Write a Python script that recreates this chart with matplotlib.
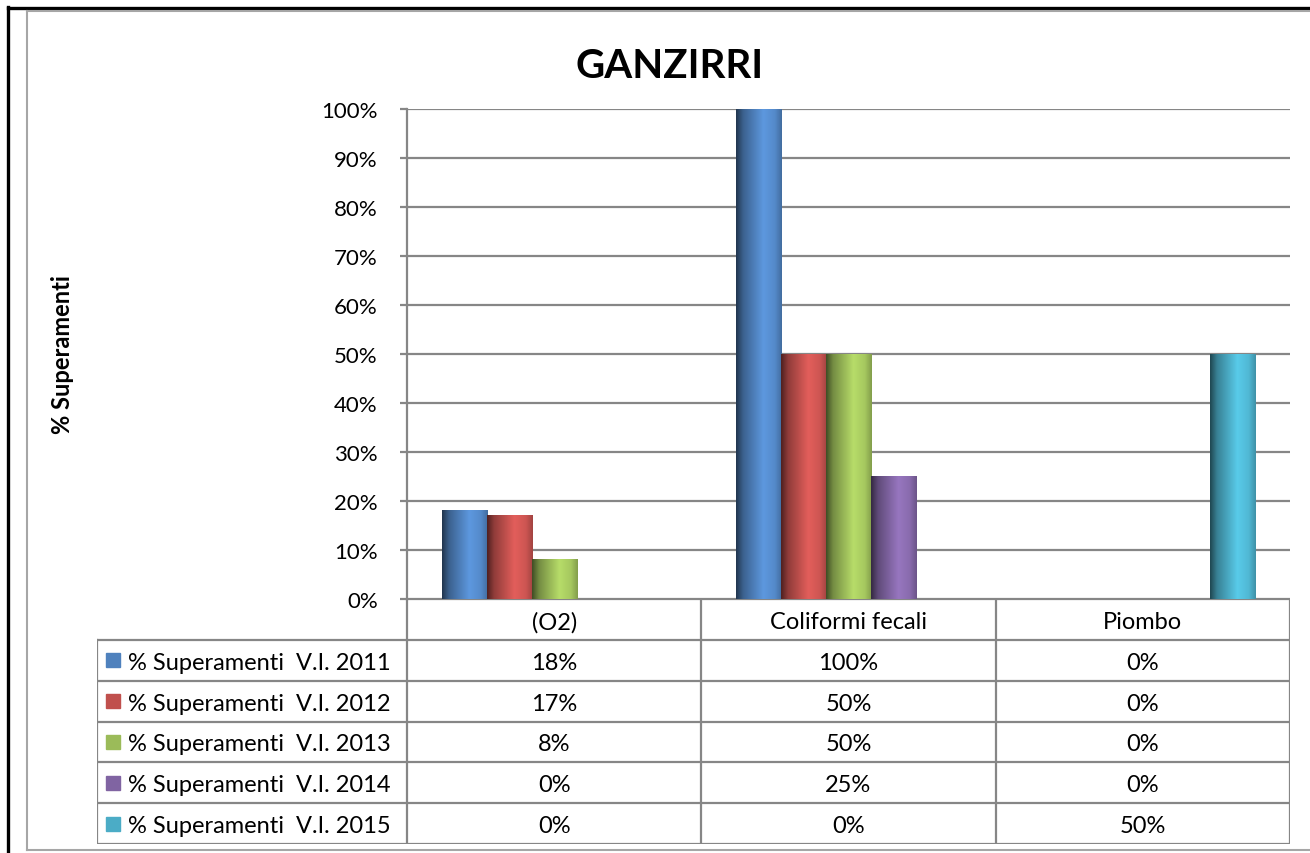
import numpy as np
import matplotlib.pyplot as plt
from matplotlib.colors import to_rgb
from matplotlib.lines import Line2D

plt.rcParams['font.family'] = ['Lato', 'DejaVu Sans']

# ---------------- data ----------------
categories = ['(O2)', 'Coliformi fecali', 'Piombo']
series_names = ['% Superamenti  V.I. 2011', '% Superamenti  V.I. 2012',
                '% Superamenti  V.I. 2013', '% Superamenti  V.I. 2014',
                '% Superamenti  V.I. 2015']
v2011 = [18, 100, 0]
v2012 = [17, 50, 0]
v2013 = [8, 50, 0]
v2014 = [0, 25, 0]
v2015 = [0, 0, 50]
values = [v2011, v2012, v2013, v2014, v2015]
colors = ['#4F81BD', '#C0504D', '#9BBB59', '#8064A2', '#4BACC6']

W, H = 1310, 854
GRID = '#868686'


def fx(px):
    return px / W


def fy(py):
    return 1 - py / H


fig = plt.figure(figsize=(W / 100, H / 100), dpi=100)

# frames round the chart
fig.add_artist(Line2D([fx(8), fx(8)], [fy(8), fy(H + 5)], color='black', lw=2.4))
fig.add_artist(Line2D([fx(8), fx(W + 5)], [fy(9), fy(9)], color='black', lw=2.4))
fig.add_artist(Line2D([fx(27), fx(27)], [fy(12), fy(851)], color='#a6a6a6', lw=1.5))
fig.add_artist(Line2D([fx(27), fx(W + 5)], [fy(12), fy(12)], color='#a6a6a6', lw=1.5))
fig.add_artist(Line2D([fx(27), fx(W + 5)], [fy(851), fy(851)], color='#a6a6a6', lw=1.5))

# ---------------- bar plot ----------------
ax_l, ax_r, ax_t, ax_b = 407, 1290, 110, 600
ax = fig.add_axes([fx(ax_l), fy(ax_b), fx(ax_r - ax_l), (ax_b - ax_t) / H])

n = len(values)
bw = 0.153
x = np.arange(len(categories))


def gradient(c):
    c = np.array(to_rgb(c))
    t = np.linspace(0, 1, 64)
    # dark left edge, highlight right of centre, slightly darker right edge
    shade = np.interp(t, [0, 0.15, 0.6, 0.85, 1.0], [0.42, 0.75, 1.18, 1.07, 0.85])
    img = np.clip(c[None, :] * shade[:, None], 0, 1)
    return img[None, :, :]


for i, (vals, c) in enumerate(zip(values, colors)):
    bars = ax.bar(x + (i - (n - 1) / 2) * bw, vals, bw, color=c, zorder=2)
    for p in bars:
        h = p.get_height()
        if h <= 0:
            continue
        x0 = p.get_x()
        ax.imshow(gradient(c), extent=[x0, x0 + p.get_width(), 0, h],
                  aspect='auto', zorder=3, interpolation='bilinear')

ax.set_xlim(-0.5, len(categories) - 0.5)
ax.set_ylim(0, 100)
ax.set_yticks(np.arange(0, 101, 10))
ax.set_yticklabels([f'{v}%' for v in range(0, 101, 10)])
ax.set_xticks([])
ax.yaxis.grid(True, color=GRID, lw=1.6)
ax.set_axisbelow(True)
for s in ['top', 'right', 'bottom']:
    ax.spines[s].set_visible(False)
ax.spines['left'].set_color(GRID)
ax.spines['left'].set_linewidth(1.6)
ax.tick_params(axis='y', length=5, width=1.6, color=GRID, pad=16, labelsize=16)

fig.text(fx(62), fy(355), '% Superamenti', rotation=90, ha='center', va='center',
         fontsize=17, fontweight='bold')
fig.text(fx(670), fy(66), 'GANZIRRI', ha='center', va='center',
         fontsize=29, fontweight='bold')

# ---------------- data table ----------------
tb_l, tb_r, tb_t, tb_b = 97, 1290, 600, 845
tax = fig.add_axes([fx(tb_l), fy(tb_b), fx(tb_r - tb_l), (tb_b - tb_t) / H])
unit = (ax_r - ax_l) / len(categories)
left = -0.5 - (ax_l - tb_l) / unit
tax.set_xlim(left, len(categories) - 0.5)
nrows = n + 1
tax.set_ylim(nrows, 0)
tax.axis('off')

lk = dict(color=GRID, lw=1.6, solid_capstyle='projecting')
xe = len(categories) - 0.5
# horizontal lines
tax.plot([-0.5, xe], [0, 0], **lk)
for r in range(1, nrows + 1):
    tax.plot([left, xe], [r, r], **lk)
# vertical lines
tax.plot([left, left], [1, nrows], **lk)
for j in range(len(categories) + 1):
    tax.plot([j - 0.5, j - 0.5], [0, nrows], **lk)

fs = 17
for j, cat in enumerate(categories):
    tax.text(j, 0.55, cat, ha='center', va='center', fontsize=fs)
for i, (name, vals, c) in enumerate(zip(series_names, values, colors)):
    yc = i + 1.55
    tax.plot(left + 0.055, yc - 0.05, marker='s', ms=10, color=c, mec=c)
    tax.text(left + 0.105, yc, name, ha='left', va='center', fontsize=fs)
    for j, v in enumerate(vals):
        tax.text(j, yc, f'{v}%', ha='center', va='center', fontsize=fs)

fig.savefig('out.png', dpi=100)
